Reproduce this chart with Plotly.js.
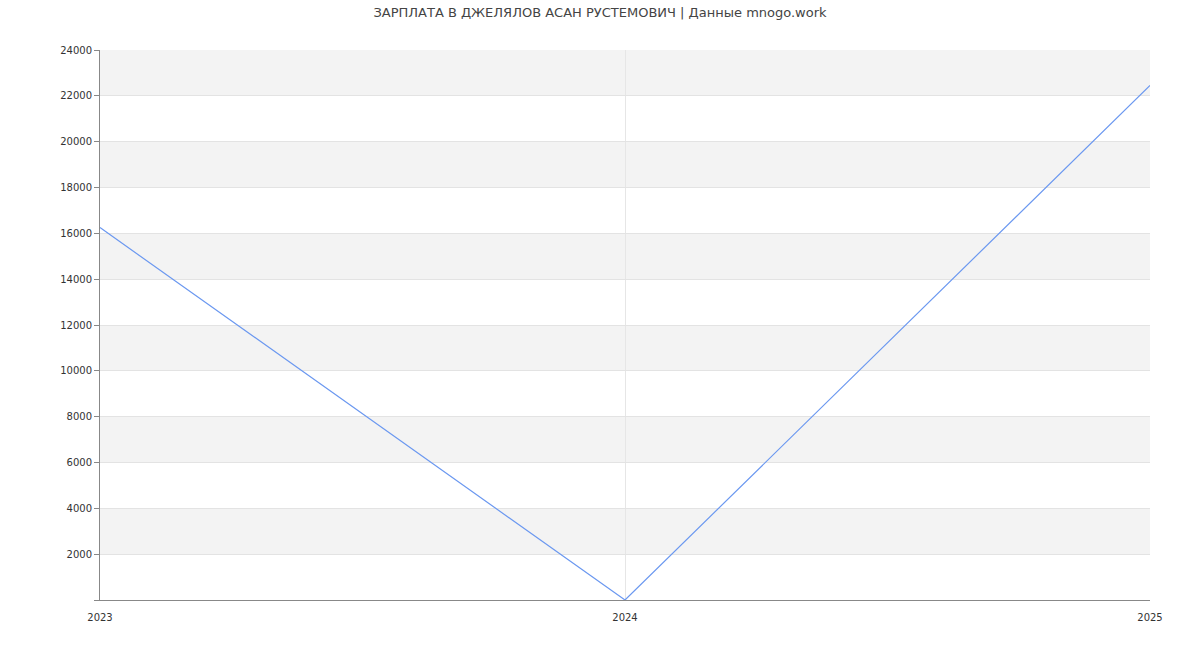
<!DOCTYPE html>
<html>
<head>
<meta charset="utf-8">
<script src="https://cdn.plot.ly/plotly-3.0.1.min.js"></script>
<style>html,body{margin:0;padding:0;background:#fff;}#chart{width:1200px;height:650px;}</style>
</head>
<body>
<div id="chart"></div>
<script>
const years = ["2023", "2024", "2025"];
const salary = [16250, 0, 22450];
const yTickVals = [0, 2000, 4000, 6000, 8000, 10000, 12000, 14000, 16000, 18000, 20000, 22000, 24000];
const yTickText = ["", "2000", "4000", "6000", "8000", "10000", "12000", "14000", "16000", "18000", "20000", "22000", "24000"];
const bandStarts = [2000, 6000, 10000, 14000, 18000, 22000];
const bandHeight = 2000;
const titleText = "ЗАРПЛАТА В ДЖЕЛЯЛОВ АСАН РУСТЕМОВИЧ | Данные mnogo.work";

const xNum = years.map(Number);
const shapes = bandStarts.map(y0 => ({
  type: "rect", xref: "paper", yref: "y", x0: 0, x1: 1, y0: y0, y1: y0 + bandHeight,
  fillcolor: "#f3f3f3", line: {width: 0}, layer: "below"
}));

Plotly.newPlot("chart", [{
  x: xNum, y: salary, type: "scatter", mode: "lines",
  line: {color: "#6b98f0", width: 1.2}, hoverinfo: "x+y"
}], {
  width: 1200, height: 650,
  margin: {l: 100, r: 50, t: 50, b: 50},
  paper_bgcolor: "#fff", plot_bgcolor: "rgba(0,0,0,0)",
  font: {family: "DejaVu Sans, sans-serif", size: 10, color: "#333"},
  title: {text: titleText, x: 0.5, xanchor: "center", y: 0.988, yanchor: "top",
          font: {family: "DejaVu Sans, sans-serif", size: 13, color: "#444"}},
  showlegend: false,
  shapes: shapes,
  xaxis: {
    range: [2023, 2025], tickvals: xNum, ticktext: years,
    showgrid: true, gridcolor: "#e6e6e6", gridwidth: 1,
    showline: true, linecolor: "#888", linewidth: 1,
    ticks: "outside", ticklen: 8, tickcolor: "rgba(0,0,0,0)", zeroline: false, fixedrange: true,
    tickfont: {size: 10, color: "#333"}
  },
  yaxis: {
    range: [0, 24000], tickvals: yTickVals, ticktext: yTickText,
    showgrid: true, gridcolor: "#e3e3e3", gridwidth: 1,
    showline: true, linecolor: "#888", linewidth: 1,
    ticks: "outside", ticklen: 5, tickcolor: "#888",
    zeroline: false, fixedrange: true,
    tickfont: {size: 10, color: "#333"}
  }
}, {displayModeBar: false, staticPlot: true});
</script>
</body>
</html>
